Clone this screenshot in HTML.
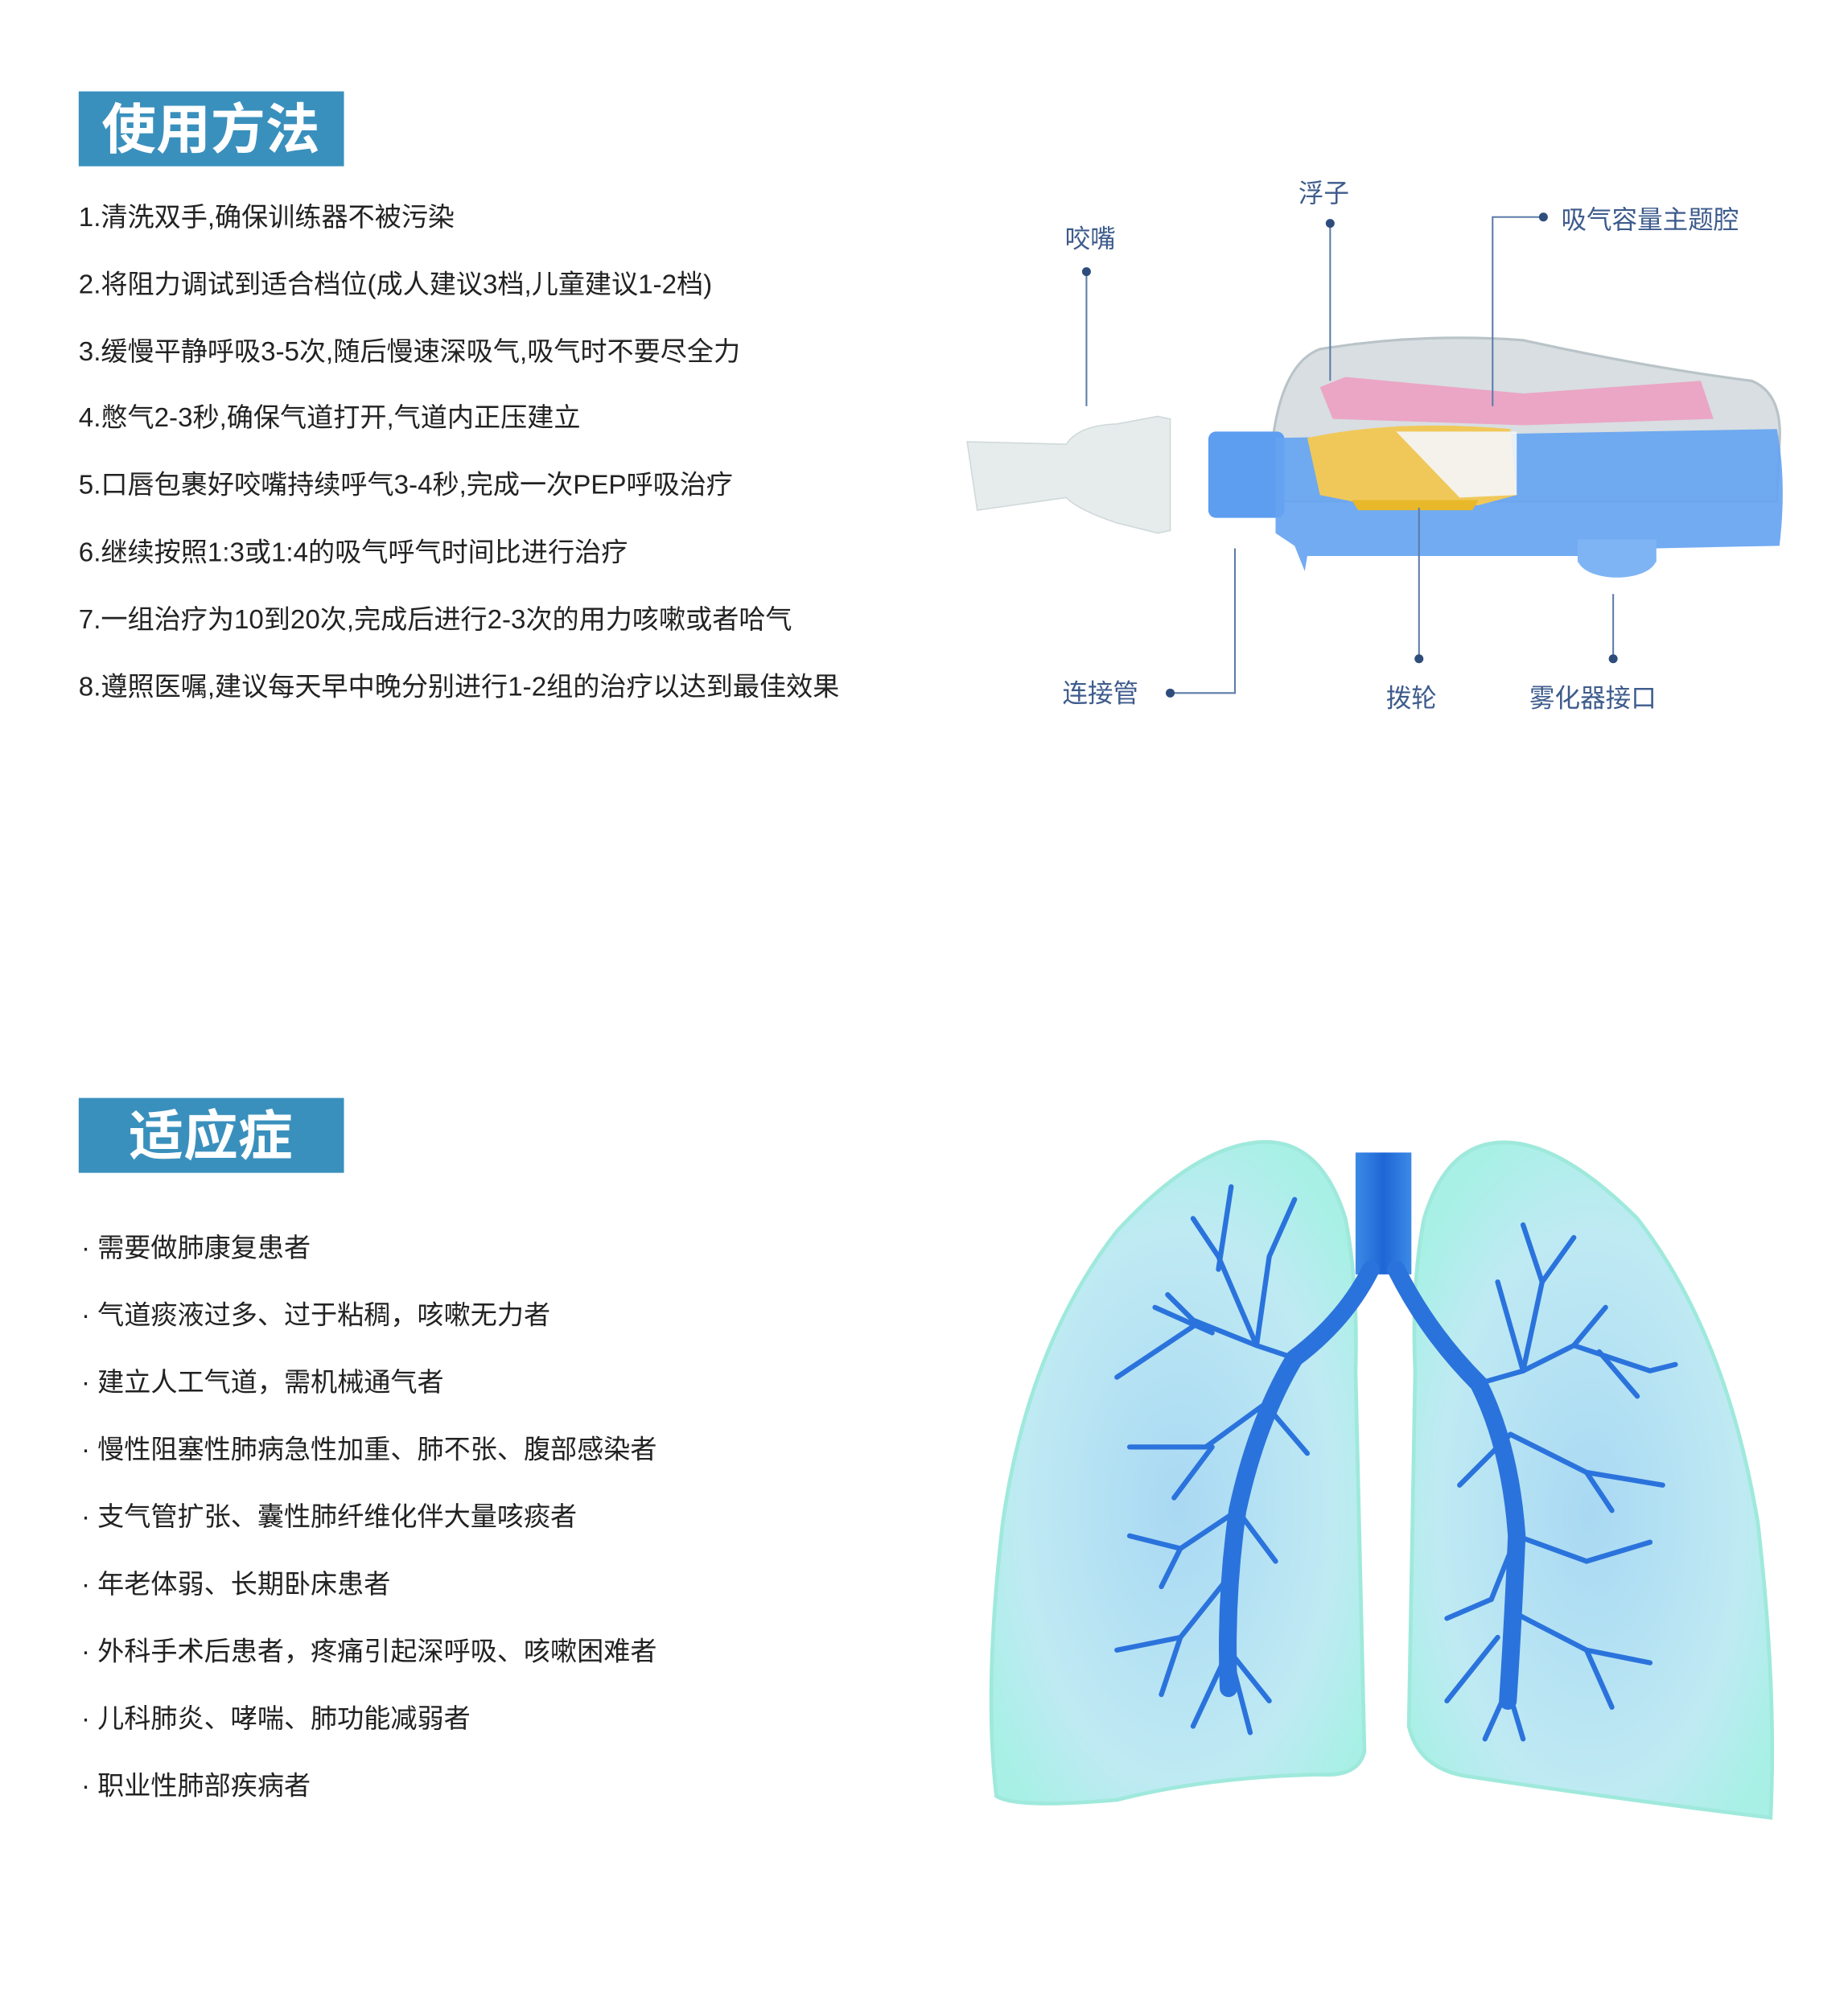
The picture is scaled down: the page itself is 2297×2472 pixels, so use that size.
<!DOCTYPE html>
<html><head><meta charset="utf-8"><style>
html,body{margin:0;padding:0;background:#fff;}
svg{display:block;}
text{font-family:"Liberation Sans","Noto Sans CJK SC",sans-serif;}
</style></head><body>
<svg width="2297" height="2472" viewBox="0 0 1456 1567" preserveAspectRatio="none" xmlns="http://www.w3.org/2000/svg">
<defs>
<radialGradient id="lg" cx="50%" cy="55%" r="60%"><stop offset="0" stop-color="#a9d8f3"/><stop offset="0.7" stop-color="#bfeaf3"/><stop offset="1" stop-color="#a8f0e6"/></radialGradient>
<linearGradient id="tr" x1="0" x2="1"><stop offset="0" stop-color="#3b8ae6"/><stop offset="0.5" stop-color="#1f66d6"/><stop offset="1" stop-color="#3b8ae6"/></linearGradient>
</defs>
<rect x="62" y="72" width="209" height="59" fill="#3a90bd"/>
<text x="166" y="117" font-size="43" font-weight="bold" fill="#fff" text-anchor="middle">使用方法</text>
<rect x="62" y="865" width="209" height="59" fill="#3a90bd"/>
<text x="166" y="910" font-size="43" font-weight="bold" fill="#fff" text-anchor="middle">适应症</text>
<g font-size="21" fill="#222">
<text x="62" y="178">1.清洗双手,确保训练器不被污染</text>
<text x="62" y="231">2.将阻力调试到适合档位(成人建议3档,儿童建议1-2档)</text>
<text x="62" y="284">3.缓慢平静呼吸3-5次,随后慢速深吸气,吸气时不要尽全力</text>
<text x="62" y="336">4.憋气2-3秒,确保气道打开,气道内正压建立</text>
<text x="62" y="389">5.口唇包裹好咬嘴持续呼气3-4秒,完成一次PEP呼吸治疗</text>
<text x="62" y="442">6.继续按照1:3或1:4的吸气呼气时间比进行治疗</text>
<text x="62" y="495">7.一组治疗为10到20次,完成后进行2-3次的用力咳嗽或者哈气</text>
<text x="62" y="548">8.遵照医嘱,建议每天早中晚分别进行1-2组的治疗以达到最佳效果</text>
</g>
<g font-size="21" fill="#222">
<text x="64" y="990">· 需要做肺康复患者</text>
<text x="64" y="1043">· 气道痰液过多、过于粘稠，咳嗽无力者</text>
<text x="64" y="1096">· 建立人工气道，需机械通气者</text>
<text x="64" y="1149">· 慢性阻塞性肺病急性加重、肺不张、腹部感染者</text>
<text x="64" y="1202">· 支气管扩张、囊性肺纤维化伴大量咳痰者</text>
<text x="64" y="1255">· 年老体弱、长期卧床患者</text>
<text x="64" y="1308">· 外科手术后患者，疼痛引起深呼吸、咳嗽困难者</text>
<text x="64" y="1361">· 儿科肺炎、哮喘、肺功能减弱者</text>
<text x="64" y="1414">· 职业性肺部疾病者</text>
</g>
<path d="M762 348 L840 350 Q850 335 880 334 L912 328 L922 330 L922 418 L912 420 L880 412 Q850 402 840 392 L770 402 Z" fill="#e6ecec" stroke="#cfd8da"/>
<path d="M1000 395 Q1000 290 1040 275 Q1120 262 1200 268 Q1300 290 1380 300 Q1405 310 1402 350 L1400 395 Z" fill="#d8dee2" stroke="#b9c3c8" stroke-width="2"/>
<path d="M1040 305 L1060 297 L1200 310 L1340 300 L1350 330 L1200 335 L1050 330 Z" fill="#ef9cc0" opacity="0.85"/>
<rect x="952" y="340" width="60" height="68" rx="6" fill="#5d9ef0"/>
<path d="M1005 345 L1400 338 Q1408 380 1402 430 L1305 432 L1300 438 L1030 438 L1028 450 L1020 430 L1005 420 Z" fill="#66a4f1" opacity="0.92"/>
<path d="M1030 345 Q1100 330 1190 338 L1195 390 L1165 398 L1080 398 L1040 390 Z" fill="#f0c85a"/>
<path d="M1100 340 L1195 340 L1195 390 L1150 392 Z" fill="#f4f6fa" opacity="0.9"/>
<path d="M1065 394 L1165 394 L1160 402 L1070 402 Z" fill="#e8b82a"/>
<ellipse cx="1274" cy="440" rx="31" ry="15" fill="#7fb4f4"/>
<rect x="1243" y="425" width="62" height="18" fill="#7fb4f4"/>
<g stroke="#5c7ca8" stroke-width="1.3" fill="none">
<line x1="856" y1="214" x2="856" y2="320"/>
<line x1="1048" y1="176" x2="1048" y2="300"/>
<polyline points="1216,171 1176,171 1176,320"/>
<polyline points="922,546 973,546 973,432"/>
<line x1="1118" y1="519" x2="1118" y2="400"/>
<line x1="1271" y1="519" x2="1271" y2="468"/>
</g>
<g fill="#2e4d7c">
<circle cx="856" cy="214" r="3.5"/><circle cx="1048" cy="176" r="3.5"/><circle cx="1216" cy="171" r="3.5"/>
<circle cx="922" cy="546" r="3.5"/><circle cx="1118" cy="519" r="3.5"/><circle cx="1271" cy="519" r="3.5"/>
</g>
<g font-size="20" fill="#3d5b8c">
<text x="839" y="195">咬嘴</text>
<text x="1023" y="159">浮子</text>
<text x="1230" y="180">吸气容量主题腔</text>
<text x="837" y="553">连接管</text>
<text x="1092" y="557">拨轮</text>
<text x="1205" y="557">雾化器接口</text>
</g>
<path d="M990 900 Q1040 895 1060 960 Q1070 1010 1068 1080 L1075 1380 Q1070 1400 1040 1398 Q950 1400 880 1418 Q800 1425 785 1415 Q775 1330 790 1200 Q810 1060 880 970 Q940 905 990 900 Z" fill="url(#lg)" stroke="#9fe9dc" stroke-width="3"/>
<path d="M1185 900 Q1140 900 1122 960 Q1112 1010 1115 1080 L1110 1360 Q1118 1395 1160 1400 Q1280 1418 1395 1432 Q1400 1330 1385 1200 Q1360 1050 1290 960 Q1230 900 1185 900 Z" fill="url(#lg)" stroke="#9fe9dc" stroke-width="3"/>
<rect x="1068" y="908" width="44" height="96" fill="url(#tr)"/>
<g stroke="#2b73dc" stroke-linecap="round" fill="none">
<path d="M1080 1000 Q1060 1040 1020 1070 Q990 1120 975 1190 Q965 1260 968 1330" stroke-width="14"/>
<path d="M1100 1000 Q1125 1050 1165 1090 Q1190 1140 1195 1210 Q1192 1280 1188 1340" stroke-width="14"/>
<g stroke-width="4">
<path d="M1020 1070 L990 1060 L940 1040 L920 1020"/><path d="M990 1060 L960 990 L940 960"/><path d="M990 1060 L1000 990 L1020 945"/><path d="M960 1000 L970 935"/>
<path d="M940 1045 L880 1085"/><path d="M955 1050 L910 1030"/>
<path d="M1005 1100 L950 1140 L890 1140"/><path d="M955 1140 L925 1180"/><path d="M1000 1110 L1030 1145"/>
<path d="M975 1190 L930 1220 L890 1210"/><path d="M975 1190 L1005 1230"/><path d="M930 1220 L915 1250"/>
<path d="M970 1240 L930 1290 L880 1300"/><path d="M930 1290 L915 1335"/><path d="M968 1300 L985 1365"/><path d="M968 1300 L940 1360"/><path d="M968 1300 L1000 1340"/>
<path d="M1165 1090 L1200 1080 L1240 1060 L1265 1030"/><path d="M1200 1080 L1215 1010 L1200 965"/><path d="M1215 1010 L1240 975"/><path d="M1200 1080 L1180 1010"/>
<path d="M1240 1060 L1300 1080 L1320 1075"/><path d="M1260 1065 L1290 1100"/>
<path d="M1190 1130 L1250 1160 L1310 1170"/><path d="M1250 1160 L1270 1190"/><path d="M1190 1130 L1150 1170"/>
<path d="M1195 1210 L1250 1230 L1300 1215"/><path d="M1195 1210 L1175 1260 L1140 1275"/>
<path d="M1192 1270 L1250 1300 L1300 1310"/><path d="M1250 1300 L1270 1345"/><path d="M1188 1330 L1170 1370"/><path d="M1188 1330 L1200 1370"/><path d="M1180 1290 L1140 1340"/>
</g>
</g>
</svg>
</body></html>
